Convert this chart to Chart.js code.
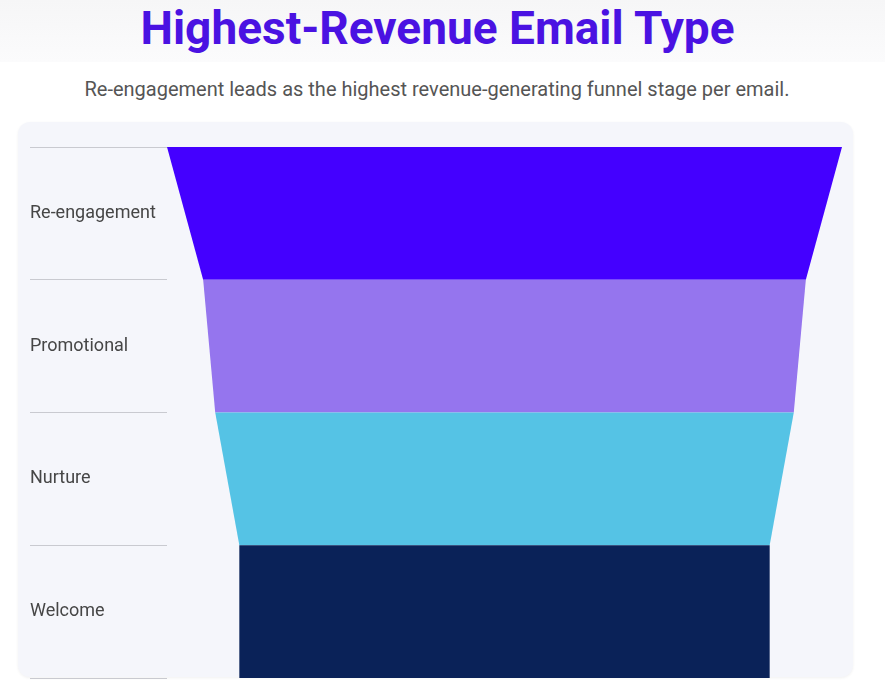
<!DOCTYPE html>
<html>
<head>
<meta charset="utf-8">
<script src="https://cdn.jsdelivr.net/npm/chart.js@4.4.0/dist/chart.umd.min.js"></script>
<style>
  html, body { margin: 0; padding: 0; background: #fff; }
  body { width: 885px; height: 693px; position: relative; overflow: hidden; font-family: Roboto, sans-serif; }
  .header { position: absolute; left: 0; top: 0; width: 885px; height: 62px;
            background: linear-gradient(#f6f6f7, #fbfbfc); }
  h1 { position: absolute; left: 0; top: 0; width: 875px; margin: 0; text-align: center;
       font: 700 46px Roboto, sans-serif; color: #4a12e2; line-height: 56px; }
  .sub { position: absolute; left: 0; top: 77px; width: 874px; text-align: center;
         font: 400 20px Roboto, sans-serif; color: #555; line-height: 24px; }
  .card { position: absolute; left: 18px; top: 122px; width: 835px; height: 555px;
          background: #f5f6fb; border-radius: 12px; box-shadow: 0 1px 3px rgba(0,0,0,0.06); }
  .wrap { position: absolute; left: 0; top: 0; width: 885px; height: 693px; }
</style>
</head>
<body>
<div class="header"></div>
<h1>Highest-Revenue Email Type</h1>
<div class="sub">Re-engagement leads as the highest revenue-generating funnel stage per email.</div>
<div class="card"></div>
<div class="wrap"><canvas id="funnel"></canvas></div>
<script>
const stages = ["Re-engagement", "Promotional", "Nurture", "Welcome"];
const revenuePerEmail = [0.28, 0.25, 0.24, 0.22];
const stageColors = ["#4400ff", "#9575ee", "#55c3e5", "#0a2258"];

// each stage is a floating bar centred on 0; the plugin turns them into trapezoids
const barData = revenuePerEmail.map(v => [-v / 2, v / 2]);
const half = Math.max(...revenuePerEmail) / 2;

const funnelShape = {
  id: 'funnelShape',
  beforeDatasetDraw(chart, args) {
    const ctx = chart.ctx;
    const bars = args.meta.data;
    bars.forEach((bar, i) => {
      const p = bar.getProps(['x', 'y', 'base', 'height'], true);
      const next = bars[i + 1] ? bars[i + 1].getProps(['x', 'base'], true) : p;
      const top = p.y - p.height / 2;
      const bottom = p.y + p.height / 2;
      ctx.save();
      ctx.beginPath();
      ctx.moveTo(Math.min(p.x, p.base), top);
      ctx.lineTo(Math.max(p.x, p.base), top);
      ctx.lineTo(Math.max(next.x, next.base), bottom);
      ctx.lineTo(Math.min(next.x, next.base), bottom);
      ctx.closePath();
      ctx.fillStyle = stageColors[i];
      ctx.fill();
      ctx.restore();
    });
    return false;
  }
};

new Chart(document.getElementById('funnel'), {
  type: 'bar',
  data: {
    labels: stages,
    datasets: [{
      label: 'Revenue per email',
      data: barData,
      backgroundColor: stageColors,
      barPercentage: 1,
      categoryPercentage: 1
    }]
  },
  options: {
    indexAxis: 'y',
    responsive: true,
    maintainAspectRatio: false,
    animation: false,
    layout: { padding: { left: 30, right: 43, top: 147, bottom: 15 } },
    plugins: { legend: { display: false }, tooltip: { enabled: false } },
    scales: {
      x: { display: false, min: -half, max: half },
      y: {
        afterFit(scale) { scale.width = 137; },
        border: { display: false },
        grid: { offset: true, drawOnChartArea: false, drawTicks: true, tickLength: 137, color: '#c9cad0' },
        ticks: { crossAlign: 'far', padding: 0, color: '#464646', font: { family: 'Roboto', size: 18 } }
      }
    }
  },
  plugins: [funnelShape]
});
</script>
</body>
</html>
